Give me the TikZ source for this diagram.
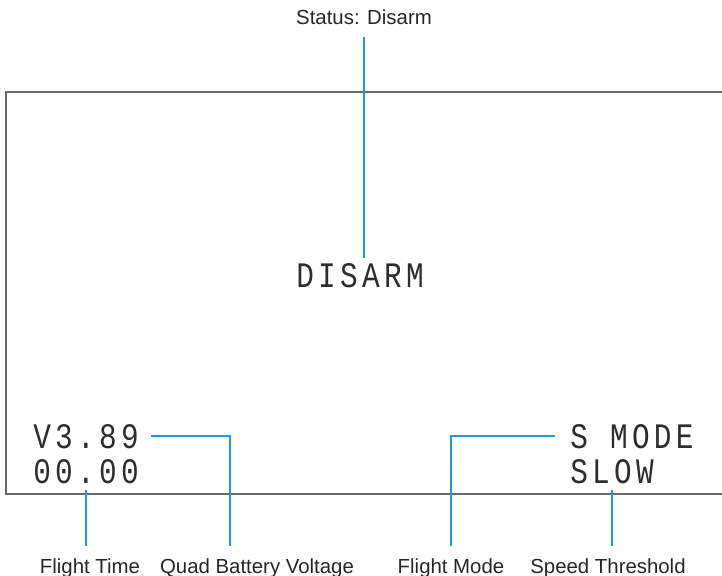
\documentclass[tikz,border=0pt]{standalone}
\usepackage{fontspec}
\setmainfont{Liberation Sans}
\newfontfamily\osdfont[FakeStretch=0.82,LetterSpace=12]{Liberation Mono}
\usepackage{tikz}
\usetikzlibrary{positioning}
\definecolor{leadblue}{RGB}{38,152,212}
\definecolor{framegray}{RGB}{105,105,105}
\definecolor{osdgray}{RGB}{45,45,45}

\begin{document}
\begin{tikzpicture}[x=0.025cm,y=-0.025cm,
  osd/.style={font=\osdfont\fontsize{25.5}{26}\selectfont,text=osdgray,inner xsep=0.3cm,inner ysep=0.15cm},
  caption/.style={font=\fontsize{14.5}{16}\selectfont,text=black!85,inner sep=0.3cm,anchor=base},
  lead/.style={leadblue,line width=1.4pt},
  frame/.style={framegray,line width=1.4pt}]
  \useasboundingbox (0,0) rectangle (722,576);
  % screen
  \draw[frame] (722,92) -- (6,92) -- (6,494) -- (722,494);
  \node[caption] (status) at (364,25) {Status: Disarm};
  \node[osd,anchor=base] (disarm) at (360,288) {DISARM};
  \node[osd,anchor=base west] (volt) at (21,448) {V3.89};
  \node[osd,anchor=base west] (timer) at (21,483) {00.00};
  \node[osd,anchor=base west,inner xsep=0.38cm] (mode) at (555,448) {S MODE};
  \node[osd,anchor=base west] (speed) at (558,483) {SLOW};
  \node[caption] (flighttime) at (90,573) {Flight Time};
  \node[caption] (battery) at (257,573) {Quad Battery Voltage};
  \node[caption] (flightmode) at (451,573) {Flight Mode};
  \node[caption] (threshold) at (608,573) {Speed Threshold};
  \coordinate (voltdrop) at (230,0);
  \draw[lead](status.south) -- (status.south |- disarm.north);
  \draw[lead](volt.east) -| (voltdrop |- battery.north);
  \draw[lead](timer.south) -- (timer.south |- flighttime.north);
  \draw[lead](mode.west) -| (flightmode.north);
  \draw[lead](speed.south) -- (speed.south |- threshold.north);
\end{tikzpicture}
\end{document}
